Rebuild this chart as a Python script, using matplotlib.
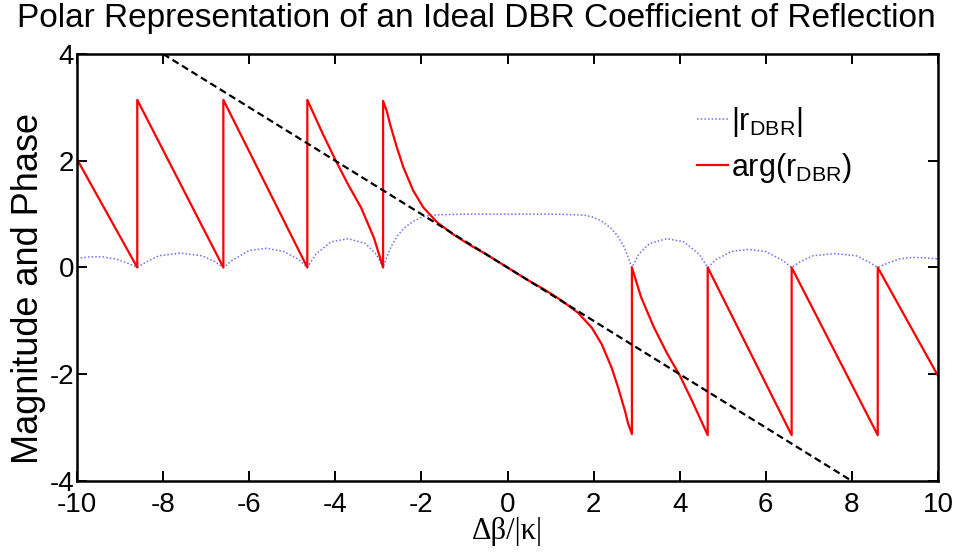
import numpy as np
import matplotlib
matplotlib.use('Agg')
import matplotlib.pyplot as plt

plt.rcParams['font.family'] = 'Liberation Sans'
plt.rcParams['mathtext.fontset'] = 'custom'
plt.rcParams['mathtext.rm'] = 'Liberation Sans'
plt.rcParams['mathtext.it'] = 'Liberation Sans'
plt.rcParams['axes.unicode_minus'] = False

# |r_DBR|
mag_x = [-10, -9.7, -9.4, -9.1, -8.85, -8.6,
         -8.4, -8.1, -7.6, -7.1, -6.8, -6.6,
         -6.4, -6.0, -5.6, -5.2, -4.85, -4.65,
         -4.45, -4.1, -3.7, -3.3, -3.05, -2.89,
         -2.8, -2.7, -2.55, -2.4, -2.2, -2.0, -1.8, -1.5, -1.0, 0.0,
         1.0, 1.5, 1.8, 2.0, 2.2, 2.4, 2.55, 2.7, 2.8,
         2.89, 3.05, 3.3, 3.7, 4.1, 4.45,
         4.65, 4.85, 5.2, 5.6, 6.0, 6.4,
         6.6, 6.8, 7.1, 7.6, 8.1, 8.4,
         8.6, 8.85, 9.1, 9.4, 9.7, 10]
mag_y = [0.17, 0.20, 0.20, 0.16, 0.09, 0.0,
         0.10, 0.22, 0.27, 0.22, 0.11, 0.0,
         0.13, 0.32, 0.36, 0.30, 0.15, 0.0,
         0.25, 0.48, 0.54, 0.45, 0.25, 0.0,
         0.20, 0.40, 0.60, 0.74, 0.86, 0.94, 0.98, 0.99, 1.0, 1.0,
         1.0, 0.99, 0.98, 0.94, 0.86, 0.74, 0.60, 0.40, 0.20,
         0.0, 0.25, 0.45, 0.54, 0.48, 0.25,
         0.0, 0.15, 0.30, 0.34, 0.30, 0.13,
         0.0, 0.11, 0.22, 0.26, 0.22, 0.10,
         0.0, 0.09, 0.16, 0.19, 0.18, 0.16]

# arg(r_DBR) (vertical jumps kept as repeated x)
ph_x = [-10, -8.6, -8.6, -6.6, -6.6, -4.65, -4.65,
        -4.3, -4.0, -3.7, -3.4, -3.1, -2.89, -2.89,
        -2.8, -2.73, -2.57, -2.42, -2.19, -1.96, -1.64, -1.26, -0.87, -0.5, 0.0,
        0.5, 0.87, 1.26, 1.64, 1.96, 2.19, 2.42, 2.57, 2.73, 2.8, 2.89, 2.89,
        3.1, 3.4, 3.7, 4.0, 4.3, 4.65, 4.65, 6.6, 6.6, 8.6, 8.6, 10]
ph_y = [2.03, 0.0, 3.14, 0.0, 3.14, 0.0, 3.14,
        2.52, 2.02, 1.55, 1.12, 0.55, 0.0, 3.12,
        2.92, 2.69, 2.25, 1.88, 1.44, 1.13, 0.85, 0.62, 0.42, 0.25, 0.0,
        -0.25, -0.42, -0.62, -0.85, -1.13, -1.44, -1.88, -2.25, -2.69, -2.92, -3.12, 0.0,
        -0.55, -1.12, -1.6, -2.02, -2.52, -3.14, 0.0, -3.14, 0.0, -3.14, 0.0, -2.03]

# linear-phase reference line
lin_x = [-8, 8]
lin_y = [4, -4]

fig = plt.figure(figsize=(9.6, 5.52), dpi=100)
ax = fig.add_axes([0.0802, 0.1286, 0.8969, 0.7736])

ax.plot(mag_x, mag_y, color='#6e6ef0', linestyle=(0, (1, 1.4)), linewidth=1.1, label=r'$|\mathregular{r_{DBR}}|$')
ax.plot(ph_x, ph_y, color='#ff0000', linewidth=1.6, label=r'$\mathregular{arg(r_{DBR})}$')
ax.plot(lin_x, lin_y, color='black', linestyle=(0, (3.2, 1.8)), linewidth=1.6)

ax.set_xlim(-10, 10)
ax.set_ylim(-4, 4)
ax.set_xticks(np.arange(-10, 11, 2))
ax.set_yticks(np.arange(-4, 5, 2))
ax.tick_params(direction='in', length=7, width=1.4, top=True, right=True,
               labelsize=20)
ax.tick_params(axis='x', pad=8)
ax.tick_params(axis='y', pad=2)
for s in ax.spines.values():
    s.set_linewidth(1.8)

fig.text(0.496, 0.967, 'Polar Representation of an Ideal DBR Coefficient of Reflection',
         fontsize=24, ha='center', va='center')
ax.set_ylabel('Magnitude and Phase', fontsize=26)
ax.yaxis.set_label_coords(-0.036, 0.45)
ax.set_xlabel('Δβ/|κ|', fontsize=22, family='Liberation Serif')
ax.xaxis.set_label_coords(0.5, -0.085)

ax.legend(loc='upper left', bbox_to_anchor=(0.726, 0.81), bbox_transform=fig.transFigure,
          frameon=False, fontsize=22, handlelength=1.0, handletextpad=0.1,
          labelspacing=0.4, borderaxespad=0, borderpad=0)

fig.savefig('out.png', dpi=100)
